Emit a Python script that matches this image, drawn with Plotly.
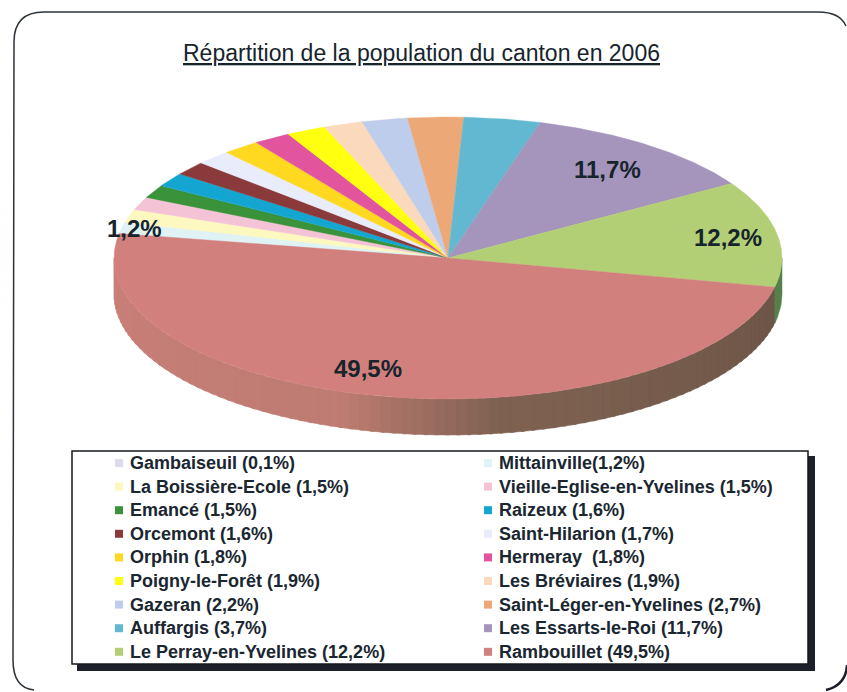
import math
import plotly.graph_objects as go

TITLE = "Répartition de la population du canton en 2006"
communes = ["Gambaiseuil", "Mittainville", "La Boissière-Ecole", "Vieille-Eglise-en-Yvelines",
            "Emancé", "Raizeux", "Orcemont", "Saint-Hilarion", "Orphin", "Hermeray",
            "Poigny-le-Forêt", "Les Bréviaires", "Gazeran", "Saint-Léger-en-Yvelines",
            "Auffargis", "Les Essarts-le-Roi", "Le Perray-en-Yvelines", "Rambouillet"]
values = [0.1, 1.2, 1.5, 1.5, 1.5, 1.6, 1.6, 1.7, 1.8, 1.8, 1.9, 1.9, 2.2, 2.7, 3.7, 11.7, 12.2, 49.5]
legend_labels = ["Gambaiseuil (0,1%)", "Mittainville(1,2%)", "La Boissière-Ecole (1,5%)",
                 "Vieille-Eglise-en-Yvelines (1,5%)", "Emancé (1,5%)", "Raizeux (1,6%)",
                 "Orcemont (1,6%)", "Saint-Hilarion (1,7%)", "Orphin (1,8%)", "Hermeray  (1,8%)",
                 "Poigny-le-Forêt (1,9%)", "Les Bréviaires (1,9%)", "Gazeran (2,2%)",
                 "Saint-Léger-en-Yvelines (2,7%)", "Auffargis (3,7%)", "Les Essarts-le-Roi (11,7%)",
                 "Le Perray-en-Yvelines (12,2%)", "Rambouillet (49,5%)"]
colors = ["#dcdcec", "#dff3f5", "#fdf8bf", "#f4c3d6", "#3a933a", "#14a6d0", "#8a3a3a", "#e9ecfa",
          "#ffd820", "#e2559e", "#ffff10", "#fbd9bd", "#bfcdec", "#eda878", "#62b8d0", "#a595bd",
          "#b3cf75", "#d2807d"]
# slice index -> (text, radial position, horizontal shift)
value_labels = {1: ("1,2%", 0.96, 0), 15: ("11,7%", 0.79, 0), 16: ("12,2%", 0.85, 0), 17: ("49,5%", 0.8, -29)}

CX, CY, A, B, DEPTH = 448, 258, 334, 141, 36
START = 170.0
total = sum(values)


def pt(deg, r=1.0, dy=0.0):
    t = math.radians(deg)
    return CX + A * r * math.cos(t), CY - B * r * math.sin(t) + dy


def wall_color(t):
    stops = [(0, (203, 128, 122)), (0.42, (190, 124, 114)), (0.58, (128, 98, 82)), (1, (108, 86, 72))]
    for (t0, c0), (t1, c1) in zip(stops, stops[1:]):
        if t <= t1:
            f = (t - t0) / (t1 - t0)
            return "rgb(%d,%d,%d)" % tuple(c0[i] + (c1[i] - c0[i]) * f for i in range(3))
    return "rgb(108,86,72)"


def band(a0, a1, steps=6):
    seq = [a0 + (a1 - a0) * k / steps for k in range(steps + 1)]
    top = [pt(p) for p in seq]
    bot = [pt(p, dy=DEPTH) for p in reversed(seq)]
    ring = top + bot + [top[0]]
    return [p[0] for p in ring], [p[1] for p in ring]


fig = go.Figure()

angles = []
a = START
for v in values:
    b = a - v / total * 360
    angles.append((a, b))
    a = b

# side wall: visible front half, from the far left to the end of the last slice
ram_end = angles[17][0]
N = 90
for i in range(N):
    a0 = -180 + (ram_end + 180) * i / N
    a1 = -180 + (ram_end + 180) * (i + 1) / N + 0.6
    c = wall_color(i / N)
    xs, ys = band(a0, a1)
    fig.add_trace(go.Scatter(x=xs, y=ys, mode="lines", fill="toself", fillcolor=c,
                             line=dict(color=c, width=0.5), hoverinfo="skip", showlegend=False))

# part of the next slice still visible on the right wall
xs, ys = band(ram_end, 0, 12)
fig.add_trace(go.Scatter(x=xs, y=ys, mode="lines", fill="toself", fillcolor="#55804a",
                         line=dict(color="#55804a", width=0.5), hoverinfo="skip", showlegend=False))

# top faces
for i, (name, col) in enumerate(zip(communes, colors)):
    a0, a1 = angles[i]
    n = max(3, int(abs(a0 - a1) * 2))
    arc = [pt(a0 + (a1 - a0) * k / n) for k in range(n + 1)]
    xs = [CX] + [p[0] for p in arc] + [CX]
    ys = [CY] + [p[1] for p in arc] + [CY]
    fig.add_trace(go.Scatter(x=xs, y=ys, mode="lines", fill="toself", fillcolor=col,
                             line=dict(color=col, width=0.4), name=name, hoverinfo="name",
                             showlegend=False))

# custom two-column legend
COLS = [(119, 128), (488, 497)]
ROW0, ROWH = 463, 23.6
for i, (lab, col) in enumerate(zip(legend_labels, colors)):
    mx, tx = COLS[i % 2]
    y = ROW0 + (i // 2) * ROWH
    fig.add_trace(go.Scatter(x=[mx], y=[y], mode="markers",
                             marker=dict(symbol="square", size=8, color=col),
                             hoverinfo="skip", showlegend=False))
    fig.add_annotation(x=tx, y=y, text="<b>%s</b>" % lab, showarrow=False, xanchor="left",
                       yanchor="middle", font=dict(family="Liberation Sans", size=18, color="#1a2630"))

for idx, (txt, r, shift) in value_labels.items():
    x, y = pt((angles[idx][0] + angles[idx][1]) / 2, r)
    fig.add_annotation(x=x, y=y, xshift=shift, text="<b>%s</b>" % txt, showarrow=False,
                       font=dict(family="Liberation Sans", size=24, color="#16242c"))

fig.add_annotation(x=421, y=53, text="<u>%s</u>" % TITLE, showarrow=False,
                   font=dict(family="Liberation Sans", size=23, color="#16242c"))

frame_open = "M 34 690 Q 13 688 13 660 L 14 42 Q 14 12 44 12 L 818 12 Q 840 12 846 26"
frame_corner = "M 847 665 Q 846 685 826 690"
shapes = [
    dict(type="path", path=frame_open, line=dict(color="#2c3338", width=1.5), layer="below"),
    dict(type="path", path=frame_corner, line=dict(color="#1d2028", width=2.5), layer="below"),
    dict(type="rect", x0=77, y0=456, x1=815, y1=671, fillcolor="#1d2028", line=dict(width=0), layer="below"),
    dict(type="rect", x0=72, y0=451, x1=808, y1=664, fillcolor="#ffffff",
         line=dict(color="#14181c", width=1.5), layer="below"),
]

fig.update_layout(
    width=847, height=692, margin=dict(l=0, r=0, t=0, b=0),
    paper_bgcolor="#ffffff", plot_bgcolor="#ffffff", shapes=shapes, showlegend=False,
    xaxis=dict(range=[0, 847], visible=False, fixedrange=True),
    yaxis=dict(range=[692, 0], visible=False, fixedrange=True),
)
fig.write_html("out.html", config=dict(displayModeBar=False),
               post_script="document.body.style.margin='0';document.body.style.overflow='hidden';")
